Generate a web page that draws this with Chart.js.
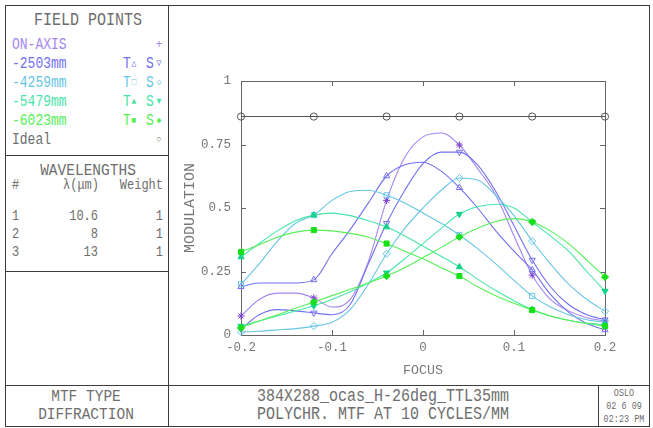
<!DOCTYPE html>
<html>
<head>
<meta charset="utf-8">
<script src="https://cdn.jsdelivr.net/npm/chart.js@4.4.1/dist/chart.umd.min.js"></script>
<style>
body { margin: 0; background: #fff; width: 653px; height: 428px; overflow: hidden; position: relative; }
.ln { position: absolute; background: #3c3c3c; }
.txt { position: absolute; white-space: nowrap; line-height: 1; font-family: "Liberation Mono", "DejaVu Sans Mono", monospace; color: #6e6e6e; }
#chartBox { position: absolute; left: 170px; top: 6px; }
</style>
</head>
<body>
<div class="ln" style="left:5px;top:5px;width:645px;height:1px"></div>
<div class="ln" style="left:5px;top:426px;width:645px;height:1px"></div>
<div class="ln" style="left:5px;top:5px;width:1px;height:422px"></div>
<div class="ln" style="left:649px;top:5px;width:1px;height:422px"></div>
<div class="ln" style="left:168px;top:5px;width:1px;height:422px"></div>
<div class="ln" style="left:5px;top:155px;width:163px;height:1px"></div>
<div class="ln" style="left:5px;top:271px;width:163px;height:1px"></div>
<div class="ln" style="left:5px;top:385px;width:645px;height:1px"></div>
<div class="ln" style="left:598px;top:385px;width:1px;height:42px"></div>
<div id="chartBox"><canvas id="c" width="478" height="378"></canvas></div>
<script>
// through-focus positions (mm) and modulation
var focus = [-0.2, -0.18, -0.16, -0.14, -0.12, -0.1, -0.08, -0.06, -0.04, -0.02, 0,
             0.02, 0.04, 0.06, 0.08, 0.1, 0.12, 0.14, 0.16, 0.18, 0.2];
var onAxis = [0.075, 0.14, 0.165, 0.165, 0.146, 0.11, 0.14, 0.29, 0.53, 0.70, 0.78,
              0.795, 0.748, 0.655, 0.55, 0.39, 0.236, 0.14, 0.095, 0.068, 0.055];
var t2503 = [0.19, 0.205, 0.205, 0.205, 0.217, 0.32, 0.415, 0.52, 0.626, 0.67, 0.68,
             0.645, 0.58, 0.50, 0.41, 0.33, 0.256, 0.16, 0.09, 0.045, 0.02];
var s2503 = [0.024, 0.08, 0.10, 0.095, 0.087, 0.08, 0.12, 0.28, 0.44, 0.57, 0.675,
             0.72, 0.72, 0.67, 0.565, 0.43, 0.295, 0.19, 0.12, 0.08, 0.06];
var t4259 = [0.20, 0.28, 0.37, 0.44, 0.472, 0.53, 0.565, 0.57, 0.55, 0.52, 0.48,
             0.44, 0.394, 0.34, 0.28, 0.215, 0.154, 0.11, 0.08, 0.06, 0.05];
var s4259 = [0.012, 0.015, 0.02, 0.025, 0.035, 0.05, 0.10, 0.20, 0.32, 0.42, 0.50,
             0.57, 0.618, 0.61, 0.55, 0.47, 0.37, 0.28, 0.20, 0.14, 0.094];
var t5479 = [0.307, 0.36, 0.41, 0.45, 0.472, 0.48, 0.47, 0.45, 0.425, 0.39, 0.35,
             0.31, 0.268, 0.22, 0.175, 0.135, 0.10, 0.075, 0.058, 0.047, 0.04];
var s5479 = [0.035, 0.055, 0.075, 0.095, 0.115, 0.14, 0.17, 0.205, 0.245, 0.30, 0.36,
             0.42, 0.476, 0.505, 0.515, 0.50, 0.445, 0.39, 0.33, 0.25, 0.173];
var t6023 = [0.327, 0.355, 0.385, 0.405, 0.413, 0.41, 0.40, 0.385, 0.36, 0.33, 0.30,
             0.265, 0.232, 0.19, 0.155, 0.125, 0.098, 0.075, 0.058, 0.045, 0.035];
var s6023 = [0.028, 0.055, 0.08, 0.105, 0.13, 0.155, 0.18, 0.205, 0.232, 0.265, 0.305,
             0.345, 0.386, 0.42, 0.447, 0.458, 0.445, 0.41, 0.36, 0.295, 0.228];
var ideal = [0.86, 0.86, 0.86, 0.86, 0.86, 0.86, 0.86, 0.86, 0.86, 0.86, 0.86,
             0.86, 0.86, 0.86, 0.86, 0.86, 0.86, 0.86, 0.86, 0.86, 0.86];
var xTicks = [-0.2, -0.1, 0, 0.1, 0.2];
var yTicks = [0, 0.25, 0.5, 0.75, 1];

var FONT = '"Liberation Mono", "DejaVu Sans Mono", monospace';
var GREY = '#6e6e6e';
var col = { on: '#a386f2', b: '#7270f2', c: '#68c6e4', a: '#4ae4a8', g: '#56f056', i: '#555555' };

function put(text, x, y, size, color, align) {
    var el = document.createElement('div');
    el.className = 'txt';
    el.textContent = text;
    el.style.left = x + 'px';
    el.style.top = y + 'px';
    el.style.fontSize = size + 'px';
    if (color) el.style.color = color;
    var tx = align == 'center' ? '-50%' : (align == 'right' ? '-100%' : '0');
    el.style.transform = 'translate(' + tx + ', -50%) scaleY(1.2)';
    document.body.appendChild(el);
}

// field points panel
put('FIELD POINTS', 88, 21, 15, GREY, 'center');
put('ON-AXIS', 12, 45, 13, col.on);
put('+', 159, 45, 11, col.on, 'center');
var rows = [['-2503mm', col.b, '\u25B3', '\u25BD'], ['-4259mm', col.c, '\u25A1', '\u25C7'],
            ['-5479mm', col.a, '\u25B2', '\u25BC'], ['-6023mm', col.g, '\u25A0', '\u25C6']];
rows.forEach(function(r, i) {
    var y = 64 + i * 19;
    put(r[0], 12, y, 13, r[1]);
    put('T', 123, y, 13, r[1]);
    put(r[2], 134, y, 8, r[1], 'center');
    put('S', 146, y, 13, r[1]);
    put(r[3], 159, y, 8, r[1], 'center');
});
put('Ideal', 12, 140, 13, GREY);
put('\u25CB', 159, 140, 8, GREY, 'center');

// wavelengths panel
put('WAVELENGTHS', 88, 170, 14.5, GREY, 'center');
put('#', 12, 185, 12, GREY);
put('\u03BB(\u03BCm)', 81, 185, 12, GREY, 'center');
put('Weight', 163, 185, 12, GREY, 'right');
[['1', '10.6', '1'], ['2', '8', '1'], ['3', '13', '1']].forEach(function(r, i) {
    var y = 216 + i * 18;
    put(r[0], 12, y, 12, GREY);
    put(r[1], 98, y, 12, GREY, 'right');
    put(r[2], 163, y, 12, GREY, 'right');
});

// title block
put('MTF TYPE', 86, 397, 14.5, GREY, 'center');
put('DIFFRACTION', 86, 415, 14.5, GREY, 'center');
put('384X288_ocas_H-26deg_TTL35mm', 383, 397, 15, GREY, 'center');
put('POLYCHR. MTF AT 10 CYCLES/MM', 383, 415, 15, GREY, 'center');
put('OSLO', 624, 394, 8.5, GREY, 'center');
put('02 6 09', 624, 407, 8.5, GREY, 'center');
put('02:23 PM', 624, 420, 8.5, GREY, 'center');

function series(values, color, style, filled, rotation, markColor) {
    return {
        data: focus.map(function(f, i) { return { x: f, y: values[i] }; }),
        borderColor: color,
        borderWidth: 1.1,
        pointStyle: style,
        pointRotation: rotation || 0,
        pointRadius: function(ctx) { return ctx.dataIndex % 4 == 0 ? 3.6 : 0; },
        pointBorderColor: markColor || color,
        pointBackgroundColor: filled ? (markColor || color) : 'rgba(0,0,0,0)',
        pointBorderWidth: 1,
        cubicInterpolationMode: 'monotone',
        fill: false,
        clip: false
    };
}

var frameBox = {
    id: 'frameBox',
    beforeDatasetsDraw: function(chart) {
        var ctx = chart.ctx, a = chart.chartArea, x = chart.scales.x, y = chart.scales.y;
        ctx.save();
        ctx.strokeStyle = '#666';
        ctx.lineWidth = 1;
        ctx.strokeRect(Math.round(a.left) + 0.5, Math.round(a.top) + 0.5,
                       Math.round(a.right - a.left), Math.round(a.bottom - a.top));
        ctx.beginPath();
        xTicks.forEach(function(v) {
            var p = Math.round(x.getPixelForValue(v)) + 0.5;
            ctx.moveTo(p, a.bottom); ctx.lineTo(p, a.bottom - 5);
            ctx.moveTo(p, a.top); ctx.lineTo(p, a.top + 5);
        });
        yTicks.forEach(function(v) {
            var p = Math.round(y.getPixelForValue(v)) + 0.5;
            ctx.moveTo(a.left, p); ctx.lineTo(a.left + 5, p);
            ctx.moveTo(a.right, p); ctx.lineTo(a.right - 5, p);
        });
        ctx.stroke();
        ctx.restore();
    }
};

new Chart(document.getElementById('c'), {
    type: 'line',
    data: {
        datasets: [
            series(ideal, col.i, 'circle', false),
            series(t6023, col.g, 'rect', true, 0, '#18e018'),
            series(s6023, col.g, 'rectRot', true, 0, '#18e018'),
            series(t5479, col.a, 'triangle', true, 0, '#14d48a'),
            series(s5479, col.a, 'triangle', true, 180, '#14d48a'),
            series(t4259, col.c, 'rect', false),
            series(s4259, col.c, 'rectRot', false),
            series(t2503, col.b, 'triangle', false),
            series(s2503, col.b, 'triangle', false, 180),
            series(onAxis, col.on, 'star', false, 0, '#7a3cd0')
        ]
    },
    options: {
        responsive: false,
        animation: false,
        layout: { padding: { left: 0, right: 43, top: 75, bottom: 0 } },
        plugins: { legend: { display: false }, tooltip: { enabled: false } },
        scales: {
            x: {
                type: 'linear', min: -0.2, max: 0.2,
                afterFit: function(s) { s.height = 49; },
                afterBuildTicks: function(s) { s.ticks = xTicks.map(function(v) { return { value: v }; }); },
                grid: { display: false, drawTicks: false },
                border: { display: false },
                ticks: {
                    padding: 5, color: '#777', maxRotation: 0, autoSkip: false,
                    font: { family: FONT, size: 12.5 },
                    callback: function(v) { return String(+v.toFixed(2)); }
                },
                title: { display: true, text: 'FOCUS', color: '#777',
                         font: { family: FONT, size: 13.3 }, padding: { top: 0, bottom: 6 } }
            },
            y: {
                min: 0, max: 1,
                afterFit: function(s) { s.width = 71; },
                afterBuildTicks: function(s) { s.ticks = yTicks.map(function(v) { return { value: v }; }); },
                grid: { display: false, drawTicks: false },
                border: { display: false },
                ticks: {
                    padding: 10, color: '#777',
                    font: { family: FONT, size: 12.5 },
                    callback: function(v) { return String(+v.toFixed(2)); }
                },
                title: { display: true, text: 'MODULATION', color: '#777',
                         font: { family: FONT, size: 15 }, padding: { top: 11, bottom: 0 } }
            }
        }
    },
    plugins: [frameBox]
});
</script>
</body>
</html>
